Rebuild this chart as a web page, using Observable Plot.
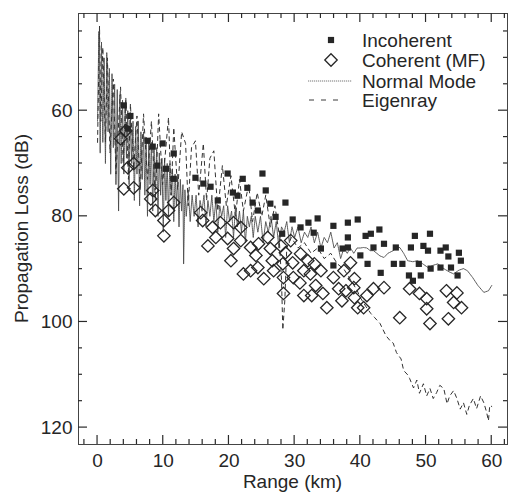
<!DOCTYPE html>
<html><head><meta charset="utf-8">
<script src="https://cdn.jsdelivr.net/npm/d3@7"></script>
<script src="https://cdn.jsdelivr.net/npm/@observablehq/plot@0.6"></script>
<style>body{margin:0;background:#fff}</style>
</head><body><div id="chart"></div>
<script>
// ---- Data ----
const incRange = [4.0,4.6,5.0,7.6,8.4,9.9,9.1,10.4,11.6,11.6,14.9,16.1,17.2,18.3,19.8,22.1,22.8,25.1,25.6,20.6,21.3,23.6,24.4,26.3,28.6,27.1,29.7,32.1,33.5,30.9,32.9,35.9,38.1,39.6,38.1,34.0,37.3,28.1,42.9,48.3,50.6,40.8,41.6,43.6,42.0,45.4,47.7,49.6,50.3,52.2,53.0,53.4,55.0,55.3,41.1,46.4,45.1,48.9,50.7,52.2,53.8,54.8,43.1,47.4,48.0,49.2,40.0,38.1,35.9];
const incLoss  = [59.0,63.4,61.0,65.7,66.8,66.2,70.4,71.0,68.1,72.9,72.7,73.8,74.4,77.0,71.9,72.9,74.6,71.9,75.1,75.5,76.1,77.4,78.9,77.6,77.4,80.1,80.6,81.2,80.4,82.1,83.1,81.8,81.2,80.6,84.0,86.1,86.1,83.3,82.5,83.7,83.3,83.7,83.3,85.2,85.9,85.9,85.9,85.6,86.5,86.5,85.9,87.6,86.9,88.4,89.0,89.0,89.0,89.0,89.9,89.7,89.7,91.2,90.7,91.2,92.2,91.2,87.4,85.9,89.3];

const cohRange = [4.3,3.5,4.6,5.5,4.0,5.5,8.4,8.1,8.8,11.6,10.8,10.1,10.1,15.7,16.0,17.5,18.7,21.8,19.8,21.8,20.7,16.8,18.0,20.7,20.3,23.3,24.1,24.5,25.9,26.3,27.9,28.6,29.4,26.6,28.2,29.7,30.9,32.0,31.4,29.8,32.4,34.0,23.3,25.3,24.4,22.2,28.3,35.9,37.5,38.5,39.0,36.7,33.2,34.3,26.8,28.3,30.8,33.0,31.4,32.6,34.9,37.2,39.1,40.5,41.0,39.1,42.0,43.6,46.0,47.5,49.0,50.1,50.1,50.6,53.1,54.2,55.4,53.4,54.7,37.8,39.6];
const cohLoss  = [63.8,65.3,70.8,70.0,74.8,74.6,75.1,76.7,78.9,77.4,78.9,80.8,83.7,79.3,80.8,82.1,81.2,82.1,84.2,84.6,81.2,85.6,84.0,86.1,88.4,85.9,87.4,85.2,84.0,86.1,85.6,86.9,84.6,88.4,89.0,88.8,87.1,88.4,90.3,91.6,90.9,90.3,90.3,91.8,89.7,90.9,94.6,91.6,90.3,88.8,93.5,93.7,93.1,94.6,90.3,91.6,92.6,89.0,95.0,95.0,97.3,96.0,95.4,97.3,95.0,91.8,93.7,93.5,99.2,93.7,94.6,95.6,97.5,100.3,94.1,96.3,97.3,99.4,94.5,94.1,97.3];

const nmRange = [0.0,0.2,0.4,0.6,0.8,1.0,1.2,1.4,1.6,1.8,2.0,2.2,2.4,2.6,2.8,3.0,3.2,3.4,3.6,3.8,4.0,4.2,4.4,4.6,4.8,5.0,5.2,5.4,5.6,5.8,6.0,6.2,6.4,6.6,6.8,7.0,7.2,7.4,7.6,7.8,8.0,8.2,8.4,8.6,8.8,9.0,9.2,9.4,9.6,9.8,10.0,10.2,10.4,10.6,10.8,11.0,11.2,11.4,11.6,11.8,12.0,12.2,12.4,12.6,12.8,13.0,13.1,13.3,13.5,13.8,14.1,14.4,14.7,15.0,15.3,15.6,15.9,16.2,16.5,16.8,17.1,17.4,17.7,18.0,18.3,18.6,18.9,19.2,19.5,19.8,20.1,20.4,20.7,21.0,21.3,21.6,21.9,22.2,22.5,22.8,23.1,23.4,23.7,24.0,24.4,24.8,25.2,25.6,26.0,26.4,26.8,27.2,27.6,28.0,28.4,28.8,29.2,29.6,30.0,30.5,31.0,31.5,32.0,32.5,33.0,33.5,34.0,34.5,35.0,35.5,36.0,36.5,37.0,37.5,38.0,38.5,39.0,39.5,40.0,40.5,41.0,41.5,42.0,42.5,43.0,43.6,44.2,45.0,45.5,46.0,46.6,47.2,48.0,48.7,49.5,50.3,51.0,51.8,52.7,53.5,54.2,55.0,55.7,56.3,57.1,57.9,58.8,59.5,60.0];
const nmLoss  = [62,45,68,47,66,50,70,49,64,52,72,53,67,55,74,56,79,57,70,58,72,59,69,60,74,61,70,62,77,63,72,62,78,64,73,64,76,65,80,66,74,66,79,67,75,67,80,68,76,69,83,69,77,70,80,70,76,71,81,72,78,72,82,73,79,74,89,75,80,75,81,76,80,76,82,77,79,76,82,77,80,76,81,77,83,78,80,78,84,78,81,79,84,78,82,79,83,79,85,80,82,80,84,80,83,80,85,81,83,80,84,81,86,82,83,81,85,82,84,82,85,83,84,82,85,83,86,84,85,83,86,85,88,86,87,86,87,86,86,85.9,86,86.5,86.5,87,87.5,87.8,87,86.5,86,85.9,87,88.4,88.6,88.4,89,89.7,89.3,89,89.9,90.5,90.9,90.2,89.9,90.3,91.6,93.1,94.4,94.1,93.1];

const erRange = [0.0,0.3,0.5,0.8,1.2,1.5,1.9,2.4,2.8,3.5,3.9,4.3,4.7,5.0,5.5,6.0,6.5,7.0,7.6,8.2,8.8,9.3,9.9,10.8,11.2,11.6,12.2,12.8,13.4,13.8,14.3,14.9,15.4,16.1,16.6,17.1,17.7,18.3,19.0,19.6,20.3,21.0,21.6,22.2,23.0,23.6,24.3,25.0,25.6,26.3,27.0,27.6,28.0,28.2,28.5,28.8,29.5,30.5,31.5,32.5,33.5,34.5,35.5,36.5,37.5,38.5,39.5,40.0,40.8,41.6,42.2,43.0,43.9,44.5,45.0,45.5,46.2,46.6,47.2,47.5,48.1,48.6,49.0,49.6,50.1,50.6,51.1,51.6,52.1,52.7,53.2,53.6,54.2,54.7,55.2,55.7,56.2,56.6,57.2,57.7,58.3,58.8,59.2,59.5,59.7,60.0];
const erLoss  = [66,44,62,48,66,50,68,54,72,55.5,70,57.5,73,58.7,71,61,75,60.6,73,62,77,60.6,74,61.3,76,63.2,75,64,66.2,78,67,65.7,76,66.2,77,69,67.6,79,70.4,78,72.3,80,73,79,74,81,75.5,80,76,82,78,83,92,101.5,96,86,84,86,85,87,86,88,87,89,90,92,94,95.4,97,98.4,99.2,100.3,102.6,103.5,104,105.8,107,109.2,110,110.7,112.5,111,113.5,111.7,114,112.6,114.5,113.4,112,112.6,115.5,114,113,114.5,116.5,115.3,117.5,115.8,114.5,116.4,114,115.3,117,118.7,115.8,116];

const xMajor = [0,10,20,30,40,50,60];
const xMinor = [-2,2,4,6,8,12,14,16,18,22,24,26,28,32,34,36,38,42,44,46,48,52,54,56,58,62];
const yMajor = [60,80,100,120];
const yMinor = [45,50,55,65,70,75,85,90,95,105,110,115];

const legendItems = ["Incoherent","Coherent (MF)","Normal Mode","Eigenray"];

(function () {
const toRows = (xs, ys) => xs.map((r, i) => ({range: r, loss: ys[i]}));
const incoherent = toRows(incRange, incLoss);
const coherent = toRows(cohRange, cohLoss);
const normalMode = toRows(nmRange, nmLoss);
const eigenray = toRows(erRange, erLoss);

const font = "'Liberation Sans', Arial, Helvetica, sans-serif";
const ink = "#262626";

const plot = Plot.plot({
  width: 512, height: 495,
  marginLeft: 78, marginRight: 5, marginTop: 13, marginBottom: 51,
  style: {fontFamily: font, background: "#fff", color: ink},
  x: {domain: [-2.9, 62.4], label: null},
  y: {domain: [41.6, 123.2], reverse: true, label: null},
  marks: [
    Plot.line(normalMode, {x: "range", y: "loss", stroke: "#4a4a4a", strokeWidth: 0.9, strokeDasharray: "1.2,0.8"}),
    Plot.line(eigenray, {x: "range", y: "loss", stroke: "#333", strokeWidth: 1, strokeDasharray: "4,4"}),
    Plot.dot(coherent, {x: "range", y: "loss", symbol: "diamond2", r: 5.6, stroke: ink, strokeWidth: 1.3, fill: "none"}),
    Plot.dot(incoherent, {x: "range", y: "loss", symbol: "square", r: 3.5, fill: ink, stroke: null}),
    Plot.frame({stroke: "#444", strokeWidth: 1}),
    Plot.axisY(yMajor, {anchor: "left", tickSize: 0, tickPadding: 6, fontSize: 19, label: null, fill: ink}),
    Plot.axisX(xMajor, {anchor: "bottom", tickSize: 0, tickPadding: 9, fontSize: 19, label: null, fill: ink})
  ]
});

const svg = d3.select(plot);
const xs = plot.scale("x"), ys = plot.scale("y");
const pxLeft = Math.min(...xs.range), pxRight = Math.max(...xs.range);
const pxTop = Math.min(...ys.range), pxBottom = Math.max(...ys.range);

// inward ticks on all four sides, positioned by the plot's scales
const tg = svg.append("g");
const tick = (x1, y1, x2, y2) => tg.append("line")
  .attr("x1", x1).attr("y1", y1).attr("x2", x2).attr("y2", y2)
  .attr("stroke", "#2a2a2a").attr("stroke-width", 1.2);
function yTicks(vals, len) {
  vals.forEach(v => {
    const y = ys.apply(v);
    tick(pxLeft, y, pxLeft + len, y);
    tick(pxRight, y, pxRight - len, y);
  });
}
function xTicks(vals, len) {
  vals.forEach(v => {
    const x = xs.apply(v);
    tick(x, pxBottom, x, pxBottom - len);
    tick(x, pxTop, x, pxTop + len);
  });
}
yTicks(yMajor, 9); yTicks(yMinor, 4);
xTicks(xMajor, 9); xTicks(xMinor, 5);

// axis titles
svg.append("text").attr("x", (pxLeft + pxRight) / 2).attr("y", 488).attr("text-anchor", "middle")
  .attr("font-family", font).attr("font-size", 19).attr("fill", ink).text("Range (km)");
svg.append("text").attr("transform", `translate(28,${(pxTop + pxBottom) / 2}) rotate(-90)`).attr("text-anchor", "middle")
  .attr("font-family", font).attr("font-size", 19).attr("fill", ink).text("Propagation Loss (dB)");

// legend
const lg = svg.append("g").attr("font-family", font).attr("font-size", 19).attr("fill", ink).attr("text-anchor", "start");
const rowsY = [40, 60, 81, 100];
lg.append("path").attr("transform", `translate(331,${rowsY[0]})`)
  .attr("d", d3.symbol(d3.symbolSquare, Math.PI * 3.5 * 3.5)()).attr("fill", ink);
lg.append("path").attr("transform", `translate(331,${rowsY[1]})`)
  .attr("d", d3.symbol(d3.symbolDiamond2, Math.PI * 5.6 * 5.6)()).attr("fill", "none").attr("stroke", ink).attr("stroke-width", 1.3);
lg.append("line").attr("x1", 308).attr("x2", 352).attr("y1", rowsY[2]).attr("y2", rowsY[2])
  .attr("stroke", "#666").attr("stroke-width", 0.9).attr("stroke-dasharray", "1.2,0.8");
lg.append("line").attr("x1", 309).attr("x2", 340).attr("y1", rowsY[3]).attr("y2", rowsY[3])
  .attr("stroke", "#3a3a3a").attr("stroke-width", 1).attr("stroke-dasharray", "5,7");
legendItems.forEach((t, i) => {
  lg.append("text").attr("x", 362).attr("y", rowsY[i]).attr("dy", "0.35em").attr("text-anchor", "start").text(t);
});

document.getElementById("chart").appendChild(plot);
})();
</script>
</body></html>
